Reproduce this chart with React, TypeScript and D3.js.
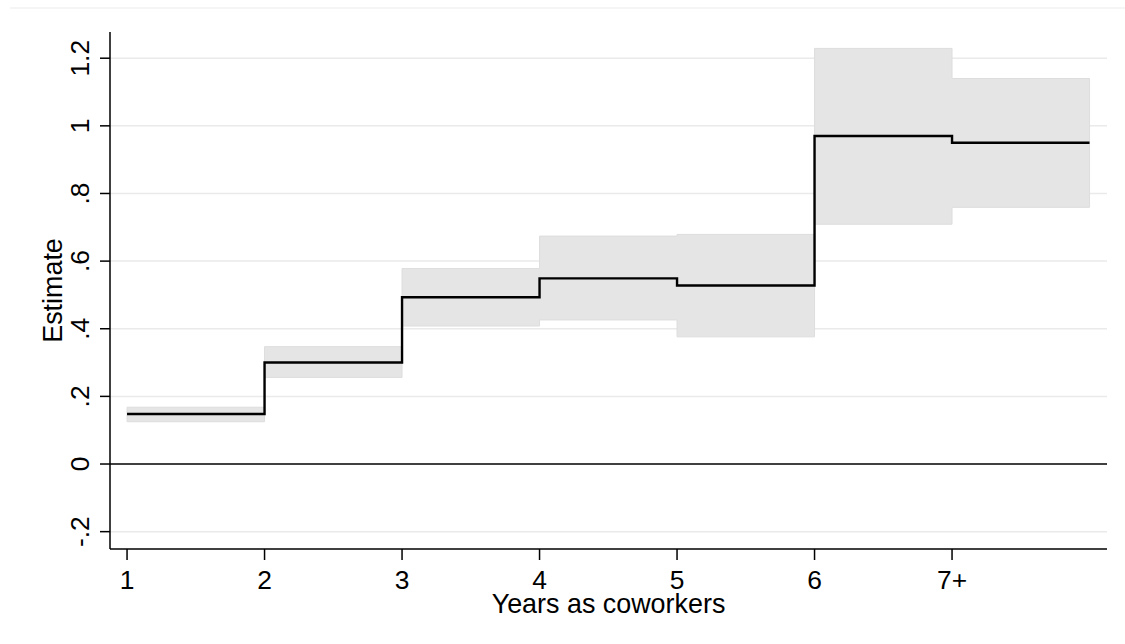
import React from "react";
import * as d3 from "d3";

const years = [1, 2, 3, 4, 5, 6, 7];
const estimate = [0.148, 0.3, 0.493, 0.549, 0.528, 0.97, 0.95];
const lower = [0.125, 0.256, 0.408, 0.426, 0.376, 0.709, 0.759];
const upper = [0.168, 0.347, 0.578, 0.674, 0.679, 1.229, 1.14];
const xTickValues = [1, 2, 3, 4, 5, 6, 7];
const xTickLabels = ["1", "2", "3", "4", "5", "6", "7+"];
const yTickValues = [-0.2, 0, 0.2, 0.4, 0.6, 0.8, 1, 1.2];
const yTickLabels = ["-.2", "0", ".2", ".4", ".6", ".8", "1", "1.2"];

const W = 1125;
const H = 644;
const left = 110;
const right = 1107;
const top = 32;
const bottom = 549;
const FONT = "'Liberation Sans', Arial, Helvetica, sans-serif";

export default function App() {
  const x = d3.scaleLinear().domain([0.876, 8.127]).range([left, right]);
  const y = d3.scaleLinear().domain([-0.2513, 1.2775]).range([bottom, top]);

  type P = { x: number; e: number; lo: number; hi: number };
  const pts: P[] = years.map((yr, i) => ({ x: yr, e: estimate[i], lo: lower[i], hi: upper[i] }));
  const last = pts[pts.length - 1];
  pts.push({ ...last, x: last.x + 1 });

  const area = d3
    .area<P>()
    .x((d) => x(d.x))
    .y0((d) => y(d.lo))
    .y1((d) => y(d.hi))
    .curve(d3.curveStepAfter);
  const line = d3
    .line<P>()
    .x((d) => x(d.x))
    .y((d) => y(d.e))
    .curve(d3.curveStepAfter);

  return (
    <div style={{ position: "absolute", left: 0, top: 0 }}>
      <svg width={W} height={H} style={{ display: "block", background: "#fff" }}>
        <line x1={10} x2={W} y1={8} y2={8} stroke="#ebebeb" strokeWidth={1} />
        {yTickValues.map((v) =>
          v === 0 ? null : (
            <line key={"g" + v} x1={left} x2={right} y1={y(v)} y2={y(v)} stroke="#eaeaea" strokeWidth={1.5} />
          )
        )}
        <path d={area(pts) || ""} fill="#e5e5e5" stroke="#dddddd" strokeWidth={1} />
        <line x1={left} x2={right} y1={y(0)} y2={y(0)} stroke="#000" strokeWidth={1.5} />
        <path d={line(pts) || ""} fill="none" stroke="#000" strokeWidth={2.4} strokeLinejoin="miter" />
        {/* y axis */}
        <line x1={left} x2={left} y1={top} y2={bottom} stroke="#000" strokeWidth={1.5} />
        {yTickValues.map((v, i) => (
          <g key={"yt" + v}>
            <line x1={left - 10} x2={left} y1={y(v)} y2={y(v)} stroke="#000" strokeWidth={1.5} />
            <text
              transform={`translate(${left - 21},${y(v)}) rotate(-90)`}
              textAnchor="middle"
              fontFamily={FONT}
              fontSize={26.4}
              fill="#000"
            >
              {yTickLabels[i]}
            </text>
          </g>
        ))}
        <text
          transform={`translate(62,${(top + bottom) / 2}) rotate(-90)`}
          textAnchor="middle"
          fontFamily={FONT}
          fontSize={26.9}
          fill="#000"
        >
          Estimate
        </text>
        {/* x axis */}
        <line x1={left} x2={right} y1={bottom} y2={bottom} stroke="#000" strokeWidth={1.5} />
        {xTickValues.map((v, i) => (
          <g key={"xt" + v}>
            <line x1={x(v)} x2={x(v)} y1={bottom} y2={bottom + 11} stroke="#000" strokeWidth={1.5} />
            <text x={x(v)} y={589} textAnchor="middle" fontFamily={FONT} fontSize={26.4} fill="#000">
              {xTickLabels[i]}
            </text>
          </g>
        ))}
        <text x={(left + right) / 2} y={613} textAnchor="middle" fontFamily={FONT} fontSize={26.9} fill="#000">
          Years as coworkers
        </text>
      </svg>
    </div>
  );
}
